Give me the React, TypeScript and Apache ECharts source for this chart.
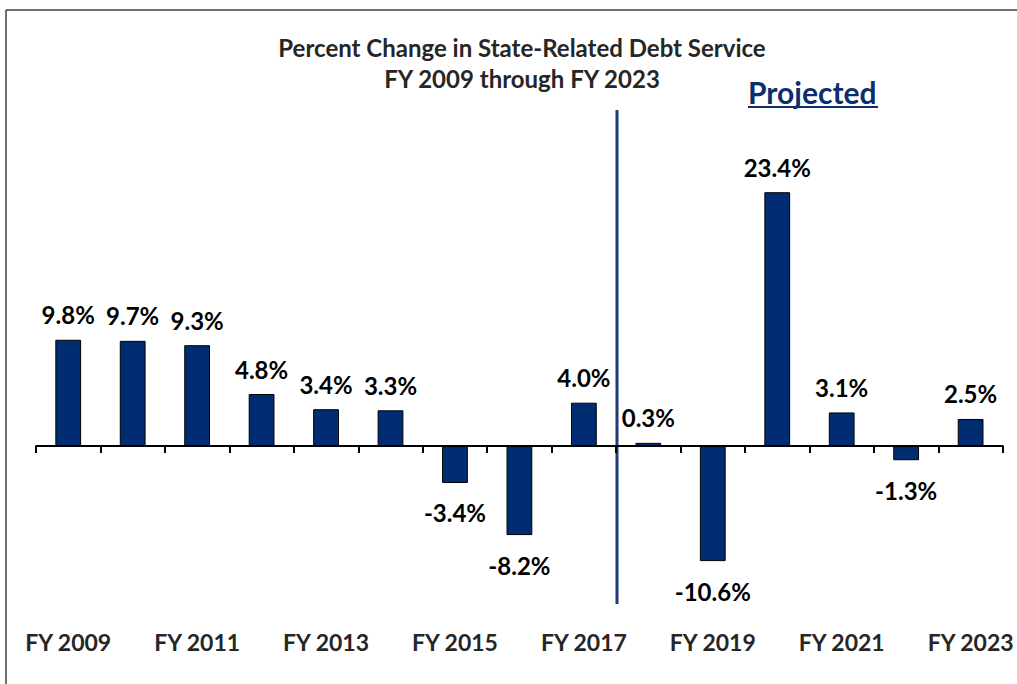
import React, { useEffect, useRef } from "react";
import * as echarts from "echarts";

const categories = [
  "FY 2009", "FY 2010", "FY 2011", "FY 2012", "FY 2013", "FY 2014", "FY 2015", "FY 2016",
  "FY 2017", "FY 2018", "FY 2019", "FY 2020", "FY 2021", "FY 2022", "FY 2023",
];
const values = [9.8, 9.7, 9.3, 4.8, 3.4, 3.3, -3.4, -8.2, 4.0, 0.3, -10.6, 23.4, 3.1, -1.3, 2.5];
const titleLines = ["Percent Change in State-Related Debt Service", "FY 2009 through FY 2023"];
const projectedLabel = "Projected";

const FONT = "Lato, 'Noto Sans', sans-serif";

export default function App() {
  const ref = useRef<HTMLDivElement>(null);
  useEffect(() => {
    document.body.style.margin = "0";
    if (!ref.current) return;
    const chart = echarts.init(ref.current, null, { renderer: "svg" });
    const data = values.map((v) => ({
      value: v,
      label: {
        position: v < 0 ? "bottom" : "top",
        distance: v < 0 ? 18 : 13,
      },
    }));
    chart.setOption({
      animation: false,
      backgroundColor: "#ffffff",
      title: {
        text: titleLines.join("\n"),
        left: 517,
        top: 27,
        textAlign: "center",
        textStyle: {
          fontFamily: FONT,
          fontSize: 24,
          fontWeight: "bold",
          color: "#262626",
          lineHeight: 31,
        },
      },
      grid: { left: 36, right: 13, top: 164, bottom: 86 },
      xAxis: [
        {
          type: "category",
          data: categories,
          position: "bottom",
          axisLine: { onZero: true, lineStyle: { color: "#000", width: 2 } },
          axisTick: { show: true, interval: 0, length: 7, lineStyle: { color: "#000", width: 2 } },
          axisLabel: { show: false },
          splitLine: { show: false },
        },
        {
          type: "category",
          data: categories,
          position: "bottom",
          axisLine: { show: false, onZero: false },
          axisTick: { show: false },
          axisLabel: {
            interval: 1,
            margin: 32,
            fontFamily: FONT,
            fontSize: 23,
            fontWeight: "bold",
            color: "#262626",
          },
        },
      ],
      yAxis: {
        type: "value",
        min: -14,
        max: 26,
        show: false,
        splitLine: { show: false },
      },
      series: [
        {
          type: "bar",
          xAxisIndex: 0,
          data,
          barWidth: "40%",
          itemStyle: { color: "#002D72", borderColor: "#000", borderWidth: 1 },
          label: {
            show: true,
            formatter: (p: any) => `${Number(p.value).toFixed(1)}%`,
            fontFamily: FONT,
            fontSize: 24,
            fontWeight: "bold",
            color: "#000",
          },
        },
      ],
      graphic: [
        {
          type: "line",
          shape: { x1: 6, y1: 10, x2: 1017, y2: 10 },
          style: { stroke: "#404040", lineWidth: 1.5 },
        },
        {
          type: "line",
          shape: { x1: 6, y1: 10, x2: 6, y2: 684 },
          style: { stroke: "#404040", lineWidth: 1.5 },
        },
        {
          type: "line",
          shape: { x1: 617, y1: 110, x2: 617, y2: 604 },
          style: { stroke: "#1F3B7A", lineWidth: 3 },
        },
        {
          type: "text",
          x: 748,
          y: 77,
          style: {
            text: projectedLabel,
            fontFamily: FONT,
            fontSize: 30,
            fontWeight: "bold",
            fill: "#0B2F6E",
          },
        },
        {
          type: "line",
          shape: { x1: 748, y1: 107, x2: 878, y2: 107 },
          style: { stroke: "#0B2F6E", lineWidth: 2 },
        },
      ],
    });
    return () => chart.dispose();
  }, []);
  return <div ref={ref} style={{ width: 1017, height: 684 }} />;
}
